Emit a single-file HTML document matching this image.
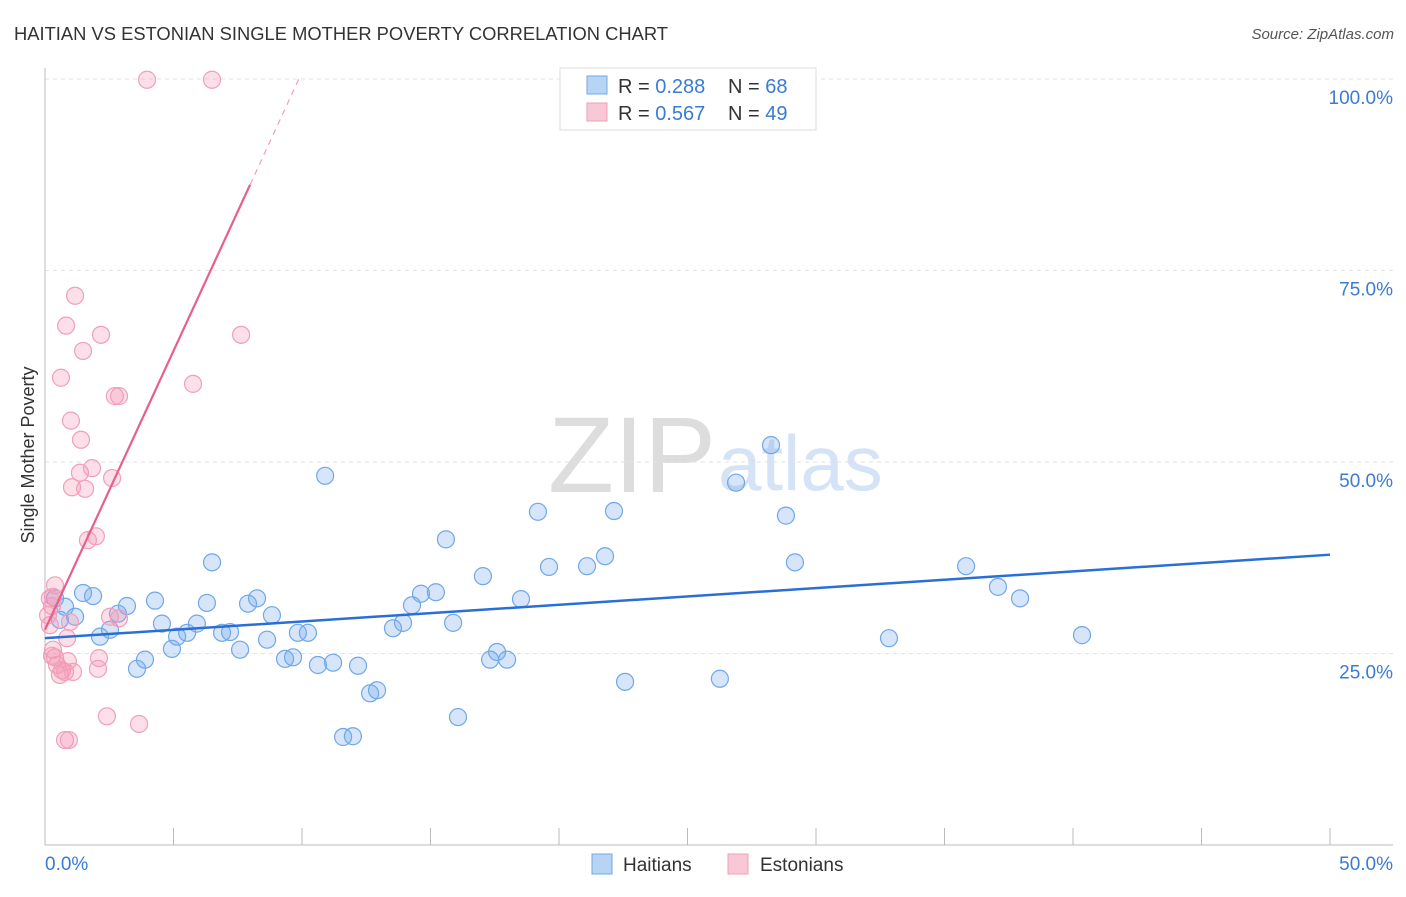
<!DOCTYPE html>
<html><head><meta charset="utf-8"><style>
body{margin:0;background:#fff;font-family:"Liberation Sans",sans-serif;}
svg text{font-family:"Liberation Sans",sans-serif;}
</style></head><body>
<svg id="c" width="1406" height="892">
<text x="14" y="40" font-size="18" fill="#333" textLength="654" lengthAdjust="spacingAndGlyphs">HAITIAN VS ESTONIAN SINGLE MOTHER POVERTY CORRELATION CHART</text>
<text x="1394" y="39" font-size="15" fill="#555" font-style="italic" text-anchor="end">Source: ZipAtlas.com</text>
<text x="716" y="492" font-size="108" fill="#ddd" font-family="Liberation Serif" text-anchor="end">ZIP</text>
<text x="718" y="490" font-size="78" fill="#d4e3f5">atlas</text>
<text transform="translate(34,455) rotate(-90)" font-size="18" fill="#333" text-anchor="middle">Single Mother Poverty</text>
<g id="g"></g>
<g>
<rect x="560" y="68" width="256" height="62" fill="#fff" stroke="#ddd"/>
<rect x="587" y="76" width="20" height="18" fill="#b8d4f5" stroke="#6fa8e8"/>
<text x="618" y="93" font-size="20" fill="#333">R = <tspan fill="#3a7bd5">0.288</tspan></text>
<text x="728" y="93" font-size="20" fill="#333">N = <tspan fill="#3a7bd5">68</tspan></text>
<rect x="587" y="103" width="20" height="18" fill="#f9c8d6" stroke="#f0a0b8"/>
<text x="618" y="120" font-size="20" fill="#333">R = <tspan fill="#3a7bd5">0.567</tspan></text>
<text x="728" y="120" font-size="20" fill="#333">N = <tspan fill="#3a7bd5">49</tspan></text>
</g>
<g>
<rect x="592" y="854" width="20" height="20" fill="#b8d4f5" stroke="#6fa8e8"/>
<text x="623" y="871" font-size="19" fill="#333">Haitians</text>
<rect x="728" y="854" width="20" height="20" fill="#f9c8d6" stroke="#f0a0b8"/>
<text x="760" y="871" font-size="19" fill="#333">Estonians</text>
</g>
</svg>
<script>
const blueX=[0.39,0.58,0.78,1.17,1.48,1.87,2.14,2.53,2.84,3.19,3.58,3.89,4.28,4.55,4.94,5.14,5.53,5.91,6.30,6.50,6.89,7.20,7.59,7.90,8.25,8.64,8.83,9.34,9.65,9.84,10.23,10.62,10.90,11.21,11.60,11.98,12.18,12.65,12.92,13.54,13.93,14.28,14.63,15.21,15.60,15.88,16.07,17.04,17.32,17.59,17.98,18.52,19.18,19.61,21.09,21.79,22.14,22.57,26.26,26.89,28.25,28.83,29.18,32.84,35.84,37.08,37.94,40.35];
const blueY=[32.2,29.4,31.1,29.8,32.9,32.5,27.2,28.1,30.2,31.2,23.0,24.2,31.9,28.9,25.6,27.2,27.7,28.9,31.6,36.9,27.7,27.8,25.5,31.5,32.2,26.8,30.0,24.3,24.5,27.7,27.7,23.5,48.2,23.8,14.1,14.2,23.4,19.8,20.2,28.3,29.0,31.3,32.8,33.0,39.9,29.0,16.7,35.1,24.2,25.2,24.2,32.1,43.5,36.3,36.4,37.7,43.6,21.3,21.7,47.3,52.2,43.0,36.9,27.0,36.4,33.7,32.2,27.4];
const pinkX=[3.97,6.50,0.39,0.31,0.27,0.19,0.31,0.39,0.47,0.58,0.66,0.78,0.86,0.89,0.97,1.09,0.62,0.82,1.01,1.05,1.17,1.36,1.40,1.48,1.56,1.67,1.83,1.98,2.06,2.10,2.18,2.41,2.53,2.61,2.72,2.88,2.88,3.66,5.76,7.63,0.78,0.93,0.27,0.19,0.12];
const pinkY=[99.9,99.9,33.9,32.4,31.2,28.7,25.5,24.5,23.5,22.2,22.8,22.6,27.0,24.0,29.1,22.6,61.0,67.8,55.4,46.7,71.7,48.6,52.9,64.5,46.5,39.8,49.2,40.3,23.0,24.4,66.6,16.8,29.8,47.9,58.6,58.6,29.6,15.8,60.2,66.6,13.7,13.7,24.7,32.2,30.0];
const yTicks=[25,50,75,100];
const xTickLabels=["0.0%","50.0%"];
const blueTrend=[27.0,37.9];
const pinkTrend=[28.1,7.28];
const X=v=>45+v/50*1285, Y=v=>845-v/100*766;
const g=document.getElementById('g'), NS='http://www.w3.org/2000/svg';
function mk(t,a){const e=document.createElementNS(NS,t);for(const k in a)e.setAttribute(k,a[k]);g.appendChild(e);return e;}
yTicks.forEach(t=>{
 const l=mk('line',{x1:45,x2:1393,y1:Y(t),y2:Y(t),stroke:'#e2e2e2','stroke-dasharray':'4,4'});
 
 
 const tx=mk('text',{x:1393,y:Y(t)+25,'font-size':19,fill:'#3a7bd5','text-anchor':'end'});
 tx.textContent=t.toFixed(1)+'%';
 
 
});
const ax=mk('line',{x1:45,x2:45,y1:68,y2:845,stroke:'#bbb'});


const bx=mk('line',{x1:45,x2:1393,y1:845,y2:845,stroke:'#bbb'});


for(let i=0;i<=10;i++){const t=mk('line',{x1:X(i*5),x2:X(i*5),y1:828,y2:845,stroke:'#bbb'});
 
 }
[[0,'start',45],[50,'end',1393]].forEach((d,i)=>{const t=mk('text',{x:d[2],y:870,'font-size':19,fill:'#3a7bd5','text-anchor':d[1]});t.textContent=xTickLabels[i];
 
 });
blueX.forEach((x,i)=>{const c=mk('circle',{cx:X(x),cy:Y(blueY[i]),r:8.5,fill:'rgba(120,170,235,0.3)',stroke:'#6fa8e8','stroke-width':1.2});
 
 });
pinkX.forEach((x,i)=>{const c=mk('circle',{cx:X(x),cy:Y(pinkY[i]),r:8.5,fill:'rgba(245,150,180,0.3)',stroke:'#f0a0b8','stroke-width':1.2});
 
 });
const bl=mk('line',{x1:X(0),y1:Y(blueTrend[0]),x2:X(50),y2:Y(blueTrend[1]),stroke:'#2a6fd6','stroke-width':2.5});


const xs=7.98, xe=(100-pinkTrend[0])/pinkTrend[1];
const pl=mk('line',{x1:X(0),y1:Y(pinkTrend[0]),x2:X(xs),y2:Y(pinkTrend[0]+pinkTrend[1]*xs),stroke:'#e8608a','stroke-width':2.2});


const pd=mk('line',{x1:X(xs),y1:Y(pinkTrend[0]+pinkTrend[1]*xs),x2:X(xe),y2:Y(100),stroke:'#f0a0b8','stroke-width':1.2,'stroke-dasharray':'6,5'});


</script>
</body></html>
